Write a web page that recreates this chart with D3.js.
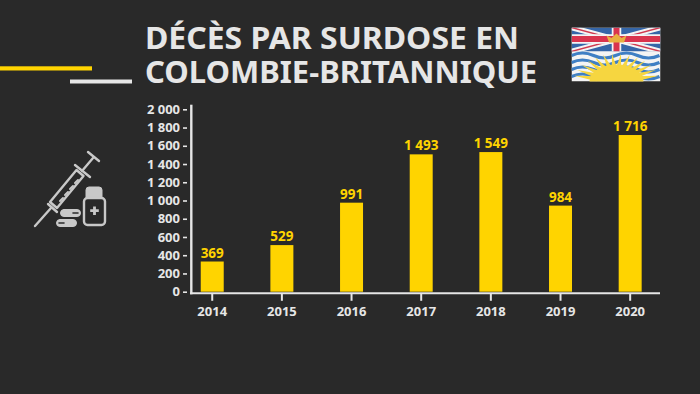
<!DOCTYPE html>
<html>
<head>
<meta charset="utf-8">
<script src="https://cdn.jsdelivr.net/npm/d3@7"></script>
<style>
html, body { margin: 0; padding: 0; background: #292929; }
svg { display: block; }
text { font-family: "Noto Sans", sans-serif; }
</style>
</head>
<body>
<svg id="chart"></svg>
<script>
const years = ["2014", "2015", "2016", "2017", "2018", "2019", "2020"];
// the printed labels
const deaths = [369, 529, 991, 1493, 1549, 984, 1716];
// bar heights as read against the y axis: in the picture they don't quite agree with the labels
const barHeights = [331, 511, 976, 1506, 1531, 944, 1718];
const yTicks = [0, 200, 400, 600, 800, 1000, 1200, 1400, 1600, 1800, 2000];
const titleLines = ["DÉCÈS PAR SURDOSE EN", "COLOMBIE-BRITANNIQUE"];
const titleWidths = [374, 392];

const width = 700,
    height = 394,
    svg = d3.select("#chart").attr("width", width).attr("height", height);

const yellow = "#ffd400", light = "#e6e6e6", grey = "#c8c8c8", bg = "#292929";

// french thousands: space instead of comma
const fmt = d => d >= 1000 ? Math.floor(d / 1000) + " " + String(d % 1000).padStart(3, "0") : String(d);

let x = d3.scaleBand().domain(years).range([177.4, 665]).paddingInner(0.67).paddingOuter(0.335);
let y = d3.scaleLinear().domain([0, 2000]).range([291.7, 109.3]);

// decorative rules
svg.append("rect").attr("x", 0).attr("y", 66.3).attr("width", 92).attr("height", 4.2).attr("fill", yellow);
svg.append("rect").attr("x", 70).attr("y", 79.5).attr("width", 62).attr("height", 4).attr("fill", light);

// title
svg.selectAll(".title")
    .data(titleLines)
    .enter()
    .append("text")
    .attr("class", "title")
    .attr("x", 145)
    .attr("y", (d, i) => 49.3 + i * 33.4)
    .attr("fill", light)
    .attr("textLength", (d, i) => titleWidths[i])
    .attr("lengthAdjust", "spacingAndGlyphs")
    .style("font-size", "29.5px")
    .style("font-weight", 700)
    .text(d => d);

// bars
svg.selectAll(".bar")
    .data(barHeights)
    .enter()
    .append("rect")
    .attr("class", "bar")
    .attr("x", (d, i) => x(years[i]))
    .attr("y", d => y(d))
    .attr("width", x.bandwidth())
    .attr("height", d => y(0) - y(d))
    .attr("fill", yellow);

svg.selectAll(".val")
    .data(deaths)
    .enter()
    .append("text")
    .attr("class", "val")
    .attr("x", (d, i) => x(years[i]) + x.bandwidth() / 2)
    .attr("y", (d, i) => y(barHeights[i]) - 4)
    .attr("text-anchor", "middle")
    .attr("fill", yellow)
    .style("font-size", "13.5px")
    .style("font-weight", 700)
    .text(d => fmt(d));

// axes
let yAxis = d3.axisLeft(y).tickValues(yTicks).tickFormat(fmt).tickSize(4);
let gy = svg.append("g").attr("transform", "translate(187,0)").call(yAxis);
let xAxis = d3.axisBottom(x).tickSize(7.5);
let gx = svg.append("g").attr("transform", "translate(0,293.3)").call(xAxis);

gy.select(".domain").remove();
gx.select(".domain").remove();
gy.selectAll("line").attr("stroke", light).attr("stroke-width", 1.6);
gx.selectAll("line").attr("stroke", light).attr("stroke-width", 2);
gy.selectAll("text").attr("fill", light).attr("x", -7).style("font-size", "13px").style("font-weight", 700);
gx.selectAll("text").attr("fill", light).attr("y", 13).style("font-size", "13px").style("font-weight", 700);

svg.append("line").attr("x1", 191.3).attr("x2", 191.3).attr("y1", 104.7).attr("y2", 294.3).attr("stroke", light).attr("stroke-width", 2.4);
svg.append("line").attr("x1", 190).attr("x2", 660).attr("y1", 293.3).attr("y2", 293.3).attr("stroke", light).attr("stroke-width", 2);

// syringe + pills icon
let icon = svg.append("g").attr("fill", "none").attr("stroke", grey).attr("stroke-width", 2.4).attr("stroke-linecap", "round").attr("stroke-linejoin", "round");
icon.append("path").attr("d", "M35,226 L51,208");
icon.append("path").attr("d", "M50,202 L57,208 L83.5,176 L76.5,170 Z");
icon.append("path").attr("d", "M48,204 L57,212 M75,165 L90,177 M82,171 L93,158 M88,152 L99,161");
icon.append("path").attr("d", "M60,201 L63,198 M65,195 L68,192 M70,189 L73,186 M75,183 L78,180").attr("stroke-width", 2);
icon.append("path").attr("d", "M86,197 V190 Q86,187 89,187 H99 Q102,187 102,190 V197 Z").attr("fill", grey).attr("stroke-width", 1);
icon.append("rect").attr("x", 84).attr("y", 198).attr("width", 21).attr("height", 27).attr("rx", 3.5);
icon.append("path").attr("d", "M94.5,206.5 V215 M90.2,210.7 H98.8").attr("stroke-width", 2.8).attr("stroke-linecap", "butt");
icon.append("rect").attr("x", 60.5).attr("y", 209.5).attr("width", 20).attr("height", 7).attr("rx", 3.5).attr("fill", grey).attr("stroke-width", 1);
icon.append("rect").attr("x", 56.5).attr("y", 219.5).attr("width", 20).attr("height", 7).attr("rx", 3.5).attr("fill", grey).attr("stroke-width", 1);
icon.append("path").attr("d", "M73,213 H78 M59,223 H64").attr("stroke", bg).attr("stroke-width", 1.6);

// flag of BC
let flag = svg.append("g").attr("transform", "translate(571.5,27.5)");
let defs = svg.append("defs");
defs.append("clipPath").attr("id", "flagClip").append("rect").attr("width", 89).attr("height", 54);
defs.append("clipPath").attr("id", "upClip").append("rect").attr("width", 89).attr("height", 24);
let fg = flag.append("g").attr("clip-path", "url(#flagClip)");
fg.append("rect").attr("width", 89).attr("height", 54).attr("fill", "#f4f4f4");
let union = fg.append("g").attr("clip-path", "url(#upClip)");
union.append("rect").attr("width", 89).attr("height", 24).attr("fill", "#3566a8");
union.append("path").attr("d", "M0,0 L89,24 M89,0 L0,24").attr("stroke", "#f4f4f4").attr("stroke-width", 5.5);
union.append("path").attr("d", "M0,0 L89,24 M89,0 L0,24").attr("stroke", "#d03a50").attr("stroke-width", 1.4);
union.append("path").attr("d", "M45,0 V24 M0,11.5 H89").attr("stroke", "#f4f4f4").attr("stroke-width", 9.5);
union.append("path").attr("d", "M45,0 V24 M0,11.5 H89").attr("stroke", "#d9344e").attr("stroke-width", 6);
fg.append("path").attr("d", "M37.5,15 L35,8 L40,10.5 L45,6 L50,10.5 L55,8 L52.5,15 Z").attr("fill", "#e8b040");
// waves
[28, 35, 42, 49].forEach(wy => {
    fg.append("path")
        .attr("d", `M0,${wy} Q11,${wy - 5} 22,${wy} T44,${wy} T66,${wy} T88,${wy}`)
        .attr("fill", "none").attr("stroke", "#3f7fc4").attr("stroke-width", 3.2);
});
// sun rays and disc
d3.range(-78, 79, 12).forEach(a => {
    let t = a * Math.PI / 180;
    let s = Math.sin(t), c = Math.cos(t);
    let bx = 2.6 * c, by = 2.6 * s;
    fg.append("path")
        .attr("d", `M${45 + 43 * s},${54 - 28 * c} L${45 + 20 * s + bx},${54 - 13 * c + by} L${45 + 20 * s - bx},${54 - 13 * c - by} Z`)
        .attr("fill", "#f6d640");
});
fg.append("ellipse").attr("cx", 45).attr("cy", 54).attr("rx", 27).attr("ry", 17).attr("fill", "#f6d640");
</script>
</body>
</html>
